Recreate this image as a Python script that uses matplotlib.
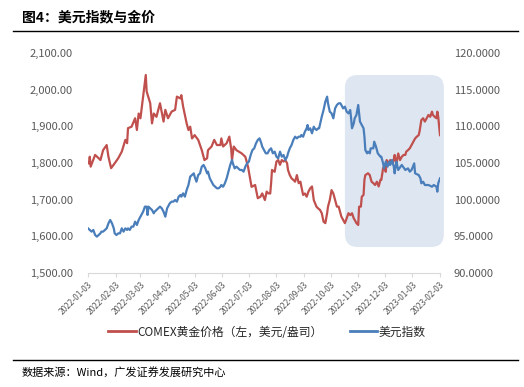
import matplotlib
matplotlib.use("Agg")
import matplotlib.pyplot as plt
import matplotlib.dates as mdates
import matplotlib.ticker as mticker
from matplotlib.patches import FancyBboxPatch
from matplotlib.lines import Line2D
import pandas as pd

plt.rcParams['font.family'] = ['Noto Sans CJK SC', 'DejaVu Sans']

title = "图4：美元指数与金价"
source = "数据来源：Wind，广发证券发展研究中心"
gold_label = "COMEX黄金价格（左，美元/盎司）"
dxy_label = "美元指数"

gold_dates = [
    "2022-01-04", "2022-01-05", "2022-01-06", "2022-01-11", "2022-01-15", "2022-01-17", "2022-01-20",
    "2022-01-24", "2022-01-26", "2022-01-29", "2022-02-02", "2022-02-06", "2022-02-10", "2022-02-14",
    "2022-02-16", "2022-02-17", "2022-02-21", "2022-02-25", "2022-02-27", "2022-03-01", "2022-03-03",
    "2022-03-06", "2022-03-09", "2022-03-10", "2022-03-14", "2022-03-16", "2022-03-18", "2022-03-21",
    "2022-03-25", "2022-03-29", "2022-03-31", "2022-04-03", "2022-04-07", "2022-04-11", "2022-04-13",
    "2022-04-17", "2022-04-18", "2022-04-20", "2022-04-24", "2022-04-26", "2022-04-28", "2022-04-30",
    "2022-05-03", "2022-05-07", "2022-05-11", "2022-05-14", "2022-05-17", "2022-05-18", "2022-05-22",
    "2022-05-25", "2022-05-28", "2022-06-01", "2022-06-02", "2022-06-04", "2022-06-08", "2022-06-11",
    "2022-06-13", "2022-06-14", "2022-06-16", "2022-06-19", "2022-06-25", "2022-06-29", "2022-07-02",
    "2022-07-06", "2022-07-10", "2022-07-13", "2022-07-16", "2022-07-18", "2022-07-21", "2022-07-23",
    "2022-07-25", "2022-07-27", "2022-07-28", "2022-07-29", "2022-08-01", "2022-08-03", "2022-08-05",
    "2022-08-07", "2022-08-09", "2022-08-11", "2022-08-13", "2022-08-15", "2022-08-16", "2022-08-18",
    "2022-08-20", "2022-08-22", "2022-08-24", "2022-08-26", "2022-08-28", "2022-08-30", "2022-08-31",
    "2022-09-02", "2022-09-04", "2022-09-06", "2022-09-08", "2022-09-10", "2022-09-12", "2022-09-14",
    "2022-09-17", "2022-09-19", "2022-09-21", "2022-09-23", "2022-09-25", "2022-09-27", "2022-09-29",
    "2022-09-30", "2022-10-02", "2022-10-04", "2022-10-06", "2022-10-08", "2022-10-10", "2022-10-12",
    "2022-10-14", "2022-10-15", "2022-10-17", "2022-10-19", "2022-10-21", "2022-10-23", "2022-10-25",
    "2022-10-27", "2022-10-29", "2022-10-30", "2022-11-01", "2022-11-03", "2022-11-04", "2022-11-06",
    "2022-11-07", "2022-11-09", "2022-11-10", "2022-11-11", "2022-11-14", "2022-11-16", "2022-11-18",
    "2022-11-20", "2022-11-22", "2022-11-24", "2022-11-26", "2022-11-28", "2022-11-29", "2022-12-01",
    "2022-12-02", "2022-12-04", "2022-12-05", "2022-12-07", "2022-12-09", "2022-12-11", "2022-12-12",
    "2022-12-14", "2022-12-15", "2022-12-16", "2022-12-18", "2022-12-20", "2022-12-22", "2022-12-24",
    "2022-12-26", "2022-12-27", "2022-12-29", "2022-12-31", "2023-01-02", "2023-01-04", "2023-01-06",
    "2023-01-08", "2023-01-10", "2023-01-11", "2023-01-13", "2023-01-15", "2023-01-17", "2023-01-19",
    "2023-01-21", "2023-01-23", "2023-01-25", "2023-01-26", "2023-01-28", "2023-01-30", "2023-01-31",
    "2023-02-01", "2023-02-03",
]
gold_values = [
    1799, 1817, 1790, 1822, 1813, 1808, 1835,
    1849, 1817, 1786, 1799, 1813, 1831, 1863,
    1854, 1895, 1899, 1922, 1890, 1935, 1922,
    1981, 2040, 1995, 1963, 1908, 1935, 1926,
    1963, 1913, 1945, 1922, 1940, 1945, 1981,
    1976, 1985, 1954, 1908, 1890, 1899, 1867,
    1876, 1863, 1835, 1808, 1813, 1835, 1845,
    1863, 1849, 1849, 1867, 1845, 1854, 1872,
    1840, 1808, 1845, 1835, 1826, 1817, 1790,
    1735, 1740, 1704, 1708, 1717, 1699, 1722,
    1717, 1717, 1745, 1781, 1776, 1804, 1808,
    1795, 1808, 1804, 1808, 1799, 1781, 1767,
    1758, 1754, 1749, 1767, 1745, 1749, 1736,
    1713, 1717, 1708, 1722, 1731, 1736, 1699,
    1681, 1676, 1672, 1663, 1640, 1636, 1663,
    1681, 1699, 1726, 1717, 1699, 1681, 1681,
    1663, 1654, 1645, 1636, 1649, 1663, 1658,
    1663, 1649, 1645, 1636, 1631, 1681, 1681,
    1708, 1713, 1754, 1767, 1772, 1767, 1749,
    1745, 1740, 1749, 1736, 1754, 1754, 1786,
    1790, 1776, 1808, 1799, 1808, 1804, 1799,
    1822, 1808, 1799, 1826, 1808, 1817, 1822,
    1822, 1831, 1835, 1840, 1849, 1858, 1867,
    1872, 1876, 1886, 1917, 1922, 1913, 1922,
    1931, 1926, 1940, 1931, 1926, 1922, 1940,
    1926, 1876,
]

dxy_dates = [
    "2022-01-03", "2022-01-05", "2022-01-07", "2022-01-09", "2022-01-11", "2022-01-13", "2022-01-15",
    "2022-01-17", "2022-01-18", "2022-01-20", "2022-01-22", "2022-01-24", "2022-01-26", "2022-01-28",
    "2022-01-30", "2022-02-01", "2022-02-02", "2022-02-04", "2022-02-06", "2022-02-08", "2022-02-10",
    "2022-02-12", "2022-02-14", "2022-02-16", "2022-02-17", "2022-02-19", "2022-02-21", "2022-02-23",
    "2022-02-25", "2022-02-27", "2022-03-01", "2022-03-03", "2022-03-04", "2022-03-06", "2022-03-08",
    "2022-03-10", "2022-03-11", "2022-03-12", "2022-03-14", "2022-03-16", "2022-03-18", "2022-03-19",
    "2022-03-21", "2022-03-23", "2022-03-25", "2022-03-27", "2022-03-29", "2022-03-31", "2022-04-02",
    "2022-04-03", "2022-04-05", "2022-04-07", "2022-04-09", "2022-04-11", "2022-04-13", "2022-04-15",
    "2022-04-17", "2022-04-18", "2022-04-20", "2022-04-22", "2022-04-24", "2022-04-26", "2022-04-28",
    "2022-04-30", "2022-05-02", "2022-05-03", "2022-05-05", "2022-05-07", "2022-05-09", "2022-05-11",
    "2022-05-13", "2022-05-15", "2022-05-17", "2022-05-18", "2022-05-20", "2022-05-22", "2022-05-24",
    "2022-05-26", "2022-05-28", "2022-05-30", "2022-06-01", "2022-06-02", "2022-06-04", "2022-06-06",
    "2022-06-08", "2022-06-10", "2022-06-12", "2022-06-14", "2022-06-15", "2022-06-17", "2022-06-19",
    "2022-06-21", "2022-06-23", "2022-06-25", "2022-06-27", "2022-06-29", "2022-07-01", "2022-07-03",
    "2022-07-05", "2022-07-07", "2022-07-09", "2022-07-11", "2022-07-13", "2022-07-15", "2022-07-17",
    "2022-07-18", "2022-07-20", "2022-07-22", "2022-07-24", "2022-07-26", "2022-07-28", "2022-07-30",
    "2022-08-01", "2022-08-03", "2022-08-05", "2022-08-07", "2022-08-09", "2022-08-11", "2022-08-13",
    "2022-08-15", "2022-08-16", "2022-08-18", "2022-08-20", "2022-08-22", "2022-08-24", "2022-08-26",
    "2022-08-28", "2022-08-30", "2022-08-31", "2022-09-02", "2022-09-04", "2022-09-06", "2022-09-07",
    "2022-09-08", "2022-09-10", "2022-09-12", "2022-09-14", "2022-09-15", "2022-09-17", "2022-09-19",
    "2022-09-20", "2022-09-23", "2022-09-25", "2022-09-27", "2022-09-29", "2022-09-30", "2022-10-02",
    "2022-10-04", "2022-10-06", "2022-10-08", "2022-10-10", "2022-10-12", "2022-10-14", "2022-10-15",
    "2022-10-17", "2022-10-19", "2022-10-21", "2022-10-23", "2022-10-25", "2022-10-26", "2022-10-27",
    "2022-10-29", "2022-10-30", "2022-11-01", "2022-11-03", "2022-11-05", "2022-11-08", "2022-11-09",
    "2022-11-10", "2022-11-11", "2022-11-13", "2022-11-14", "2022-11-16", "2022-11-17", "2022-11-20",
    "2022-11-21", "2022-11-23", "2022-11-25", "2022-11-28", "2022-11-29", "2022-12-01", "2022-12-02",
    "2022-12-04", "2022-12-06", "2022-12-08", "2022-12-09", "2022-12-11", "2022-12-13", "2022-12-14",
    "2022-12-15", "2022-12-16", "2022-12-18", "2022-12-22", "2022-12-26", "2022-12-29", "2022-12-31",
    "2023-01-02", "2023-01-05", "2023-01-06", "2023-01-10", "2023-01-12", "2023-01-13", "2023-01-15",
    "2023-01-17", "2023-01-21", "2023-01-25", "2023-01-27", "2023-01-30", "2023-01-31", "2023-02-01",
    "2023-02-03",
]
dxy_values = [
    96.09, 95.87, 95.64, 95.87, 95.18, 94.96, 95.18,
    95.41, 95.64, 95.64, 95.87, 96.09, 96.77, 97.23,
    96.77, 96.09, 95.41, 95.18, 95.41, 95.41, 96.09,
    95.64, 96.09, 95.87, 96.09, 95.87, 96.32, 96.32,
    97.00, 96.55, 97.23, 97.68, 97.91, 98.36, 99.05,
    99.05, 97.91, 99.05, 98.82, 98.59, 98.14, 98.36,
    98.59, 98.82, 99.05, 98.82, 98.36, 97.68, 98.82,
    99.05, 99.50, 99.73, 99.73, 99.95, 99.73, 100.41,
    100.64, 100.41, 100.86, 100.41, 101.32, 102.00, 103.14,
    103.36, 103.59, 103.14, 102.45, 103.36, 103.59, 104.50,
    104.73, 104.27, 103.59, 103.82, 102.91, 102.45, 102.00,
    101.77, 101.55, 101.55, 101.77, 102.00, 101.77, 102.23,
    102.91, 103.82, 104.73, 105.41, 104.95, 104.27, 104.50,
    104.27, 104.05, 104.05, 103.82, 104.50, 104.95, 105.18,
    106.09, 106.77, 107.00, 107.68, 108.14, 108.36, 107.68,
    107.23, 106.77, 106.32, 106.32, 106.77, 107.00, 106.32,
    106.55, 105.86, 105.64, 106.55, 105.86, 106.09, 105.41,
    105.86, 106.32, 107.00, 107.45, 108.14, 108.59, 108.36,
    108.59, 108.59, 108.82, 108.59, 109.27, 109.73, 110.18,
    109.50, 109.73, 109.05, 109.95, 109.73, 109.50, 109.73,
    109.73, 111.32, 112.23, 113.36, 114.05, 113.14, 112.00,
    111.77, 111.09, 112.45, 112.91, 113.14, 113.14, 112.91,
    112.45, 112.68, 112.00, 111.77, 112.23, 111.09, 109.73,
    110.41, 111.09, 111.55, 112.91, 110.64, 109.95, 109.73,
    108.59, 106.77, 106.32, 106.55, 106.32, 107.00, 107.00,
    107.91, 107.23, 106.32, 105.86, 105.86, 104.95, 104.27,
    105.18, 104.50, 105.18, 104.73, 105.41, 104.50, 103.59,
    104.50, 105.18, 104.05, 104.73, 104.05, 104.27, 103.82,
    104.05, 104.95, 103.59, 103.36, 102.91, 102.23, 102.45,
    102.00, 102.00, 101.77, 102.00, 101.77, 101.09, 102.23,
    102.91,
]

tick_dates = ["2022-01-03", "2022-02-03", "2022-03-03", "2022-04-03", "2022-05-03",
              "2022-06-03", "2022-07-03", "2022-08-03", "2022-09-03", "2022-10-03",
              "2022-11-03", "2022-12-03", "2023-01-03", "2023-02-03"]
gold_ticks = [1500, 1600, 1700, 1800, 1900, 2000, 2100]
dxy_ticks = [90, 95, 100, 105, 110, 115, 120]
highlight_start = "2022-10-19"

red = "#C0504D"
blue = "#4A7EBB"
grey_txt = "#595959"

W, H = 524, 387
fig = plt.figure(figsize=(W / 100, H / 100), dpi=100)
ax_l, ax_r, ax_b, ax_t = 88 / W, 440 / W, 1 - 273 / H, 1 - 53 / H
ax = fig.add_axes([ax_l, ax_b, ax_r - ax_l, ax_t - ax_b])
ax2 = ax.twinx()

gd = pd.to_datetime(gold_dates)
dd = pd.to_datetime(dxy_dates)
td = pd.to_datetime(tick_dates)

ax.plot(gd, gold_values, color=red, lw=1.6, zorder=3, solid_joinstyle="round")
ax2.plot(dd, dxy_values, color=blue, lw=1.6, zorder=3, solid_joinstyle="round")

ax.set_xlim(td[0], td[-1])
ax.set_ylim(gold_ticks[0], gold_ticks[-1])
ax2.set_ylim(dxy_ticks[0], dxy_ticks[-1])
ax.set_xticks(td)
ax.set_xticklabels([t for t in tick_dates], rotation=45, ha="right",
                   rotation_mode="anchor", fontsize=6, color=grey_txt)
ax.tick_params(axis="x", length=3, color="#d9d9d9", pad=2)
ax.set_yticks(gold_ticks)
ax.yaxis.set_major_formatter(mticker.FuncFormatter(lambda v, p: f"{v:,.2f}"))
ax.tick_params(axis="y", length=0, pad=11, labelsize=8, labelcolor=grey_txt)
ax2.set_yticks(dxy_ticks)
ax2.yaxis.set_major_formatter(mticker.FuncFormatter(lambda v, p: f"{v:.4f}"))
ax2.tick_params(axis="y", length=0, pad=10, labelsize=8, labelcolor=grey_txt)

for a in (ax, ax2):
    for s in ("left", "right", "top"):
        a.spines[s].set_visible(False)
    a.spines["bottom"].set_color("#d9d9d9")
ax2.spines["bottom"].set_visible(False)

# highlight box (axes-fraction coordinates, start date converted)
x0 = (mdates.date2num(pd.Timestamp(highlight_start)) - mdates.date2num(td[0])) / \
     (mdates.date2num(td[-1]) - mdates.date2num(td[0]))
box = FancyBboxPatch((x0, 0.118), 1.011 - x0, 0.9 - 0.118,
                     boxstyle="round,pad=0,rounding_size=0.037",
                     mutation_aspect=1.6, transform=ax.transAxes,
                     facecolor="#DEE6F1", edgecolor="none", clip_on=False, zorder=0)
ax.add_patch(box)

# title, rules, source
fig.text(22 / W, 1 - 17 / H, title, fontsize=10, fontweight="bold", color="black",
         va="center", ha="left")
fig.add_artist(Line2D([13 / W, 518 / W], [1 - 30.5 / H, 1 - 30.5 / H], color="black", lw=1))
fig.add_artist(Line2D([13 / W, 518 / W], [1 - 359.5 / H, 1 - 359.5 / H], color="black", lw=1))
fig.text(22 / W, 1 - 372 / H, source, fontsize=8, color="black", va="center", ha="left")

handles = [Line2D([], [], color=red, lw=2), Line2D([], [], color=blue, lw=2)]
fig.legend(handles, [gold_label, dxy_label], loc="center", ncol=2,
           bbox_to_anchor=(267 / W, 1 - 332 / H), frameon=False, fontsize=8.5,
           handlelength=2.3, columnspacing=2.3, handletextpad=0.15,
           labelcolor="#262626")

fig.savefig("out.png", dpi=100)
